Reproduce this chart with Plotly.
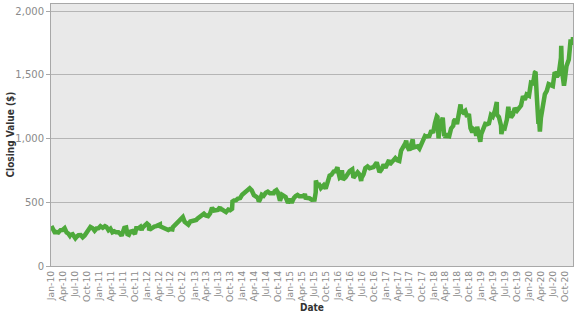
import plotly.graph_objects as go

dates = [
 "2010-01-04","2010-01-14","2010-01-29","2010-02-12","2010-02-26","2010-03-15","2010-03-31","2010-04-15","2010-04-30","2010-05-14","2010-05-25","2010-05-28","2010-06-15","2010-06-30","2010-07-06","2010-07-16","2010-07-30","2010-08-16","2010-08-31","2010-09-15","2010-09-30","2010-10-15","2010-10-29","2010-11-15","2010-11-30","2010-12-15","2010-12-31",
 "2011-01-14","2011-01-21","2011-01-31","2011-02-17","2011-02-28","2011-03-16","2011-03-31","2011-04-15","2011-04-29","2011-05-13","2011-05-31","2011-06-15","2011-06-24","2011-06-30","2011-07-15","2011-07-29","2011-08-08","2011-08-19","2011-08-31","2011-09-15","2011-09-30","2011-10-04","2011-10-14","2011-10-31","2011-11-15","2011-11-25","2011-11-30","2011-12-15","2011-12-30",
 "2012-01-04","2012-01-19","2012-01-20","2012-01-31","2012-02-15","2012-02-29","2012-03-15","2012-03-30","2012-04-12","2012-04-13","2012-04-30","2012-05-15","2012-05-31","2012-06-04","2012-06-15","2012-06-29","2012-07-16","2012-07-20","2012-07-31","2012-08-15","2012-08-31","2012-09-14","2012-09-28","2012-10-04","2012-10-18","2012-10-31","2012-11-15","2012-11-30","2012-12-14","2012-12-31",
 "2013-01-15","2013-01-23","2013-01-31","2013-02-15","2013-02-28","2013-03-14","2013-03-28","2013-04-15","2013-04-30","2013-05-15","2013-05-31","2013-06-14","2013-06-28","2013-07-15","2013-07-19","2013-07-31","2013-08-15","2013-08-30","2013-09-16","2013-09-30","2013-10-15","2013-10-18","2013-10-31","2013-11-15","2013-11-29","2013-12-16","2013-12-31",
 "2014-01-15","2014-01-31","2014-02-14","2014-02-27","2014-03-14","2014-03-31","2014-04-14","2014-04-30","2014-05-07","2014-05-15","2014-05-30","2014-06-13","2014-06-30","2014-07-15","2014-07-31","2014-08-15","2014-08-29","2014-09-05","2014-09-19","2014-09-30","2014-10-16","2014-10-31","2014-11-14","2014-11-28","2014-12-16","2014-12-31",
 "2015-01-13","2015-01-16","2015-01-30","2015-02-13","2015-02-27","2015-03-13","2015-03-31","2015-04-15","2015-04-24","2015-04-30","2015-05-15","2015-05-29","2015-06-15","2015-06-30","2015-07-07","2015-07-16","2015-07-17","2015-07-31","2015-08-06","2015-08-24","2015-08-31","2015-09-15","2015-09-30","2015-10-15","2015-10-23","2015-10-30","2015-11-13","2015-11-30","2015-12-15","2015-12-29","2015-12-31",
 "2016-01-15","2016-01-20","2016-02-01","2016-02-09","2016-02-29","2016-03-15","2016-03-31","2016-04-20","2016-04-22","2016-04-29","2016-05-13","2016-05-31","2016-06-15","2016-06-27","2016-06-30","2016-07-15","2016-07-29","2016-08-15","2016-08-31","2016-09-15","2016-09-30","2016-10-24","2016-10-31","2016-11-14","2016-11-30","2016-12-15","2016-12-30",
 "2017-01-13","2017-01-26","2017-01-31","2017-02-15","2017-02-28","2017-03-15","2017-03-31","2017-04-14","2017-04-28","2017-05-15","2017-05-31","2017-06-06","2017-06-12","2017-06-30","2017-07-14","2017-07-26","2017-07-31","2017-08-15","2017-08-31","2017-09-15","2017-09-29","2017-10-13","2017-10-27","2017-10-31","2017-11-15","2017-11-30","2017-12-15","2017-12-29",
 "2018-01-12","2018-01-26","2018-01-31","2018-02-08","2018-02-15","2018-02-27","2018-03-12","2018-03-23","2018-03-29","2018-04-02","2018-04-13","2018-04-24","2018-04-30","2018-05-15","2018-05-31","2018-06-06","2018-06-15","2018-06-29","2018-07-13","2018-07-26","2018-07-31","2018-08-15","2018-08-31","2018-09-14","2018-09-28","2018-10-10","2018-10-24","2018-10-26","2018-10-31","2018-11-15","2018-11-23","2018-11-30","2018-12-14","2018-12-24","2018-12-31",
 "2019-01-15","2019-01-31","2019-02-15","2019-02-28","2019-03-15","2019-03-29","2019-04-15","2019-04-29","2019-04-30","2019-05-15","2019-05-31","2019-06-03","2019-06-14","2019-06-28","2019-07-15","2019-07-26","2019-07-31","2019-08-15","2019-08-30","2019-09-13","2019-09-30","2019-10-15","2019-10-31","2019-11-15","2019-11-29","2019-12-13","2019-12-31",
 "2020-01-15","2020-01-31","2020-02-14","2020-02-19","2020-02-28","2020-03-09","2020-03-12","2020-03-13","2020-03-16","2020-03-23","2020-03-31","2020-04-15","2020-04-30","2020-05-15","2020-05-29","2020-06-15","2020-06-30","2020-07-14","2020-07-24","2020-07-31","2020-08-14","2020-08-31","2020-09-02","2020-09-08","2020-09-23","2020-09-30","2020-10-12","2020-10-30","2020-11-05","2020-11-13","2020-11-20","2020-11-30","2020-12-01",
]

closing = [
 313,295,265,266,263,282,283,297,263,254,238,243,249,222,218,230,242,243,225,240,263,300,307,297,277,295,297,
 312,306,300,313,307,281,293,265,272,265,265,251,237,253,299,302,250,245,270,274,257,251,296,296,308,282,300,312,322,
 334,320,293,290,302,309,313,320,326,312,302,302,290,285,282,290,287,305,316,334,342,354,377,384,347,340,324,349,351,353,
 362,371,377,396,400,411,397,391,412,457,435,438,440,461,448,443,428,423,443,438,449,506,515,517,530,534,560,
 574,590,600,610,595,556,546,534,508,519,559,551,575,584,571,573,571,586,595,577,512,559,544,541,495,526,
 496,508,534,549,558,547,546,548,565,536,533,532,521,520,522,579,672,625,650,612,618,635,608,662,702,710,717,742,744,776,758,
 694,698,752,678,697,728,745,759,718,693,711,735,718,668,692,720,768,782,767,772,777,813,784,736,758,797,771,
 807,832,796,818,823,847,829,824,905,932,964,984,942,908,955,994,930,932,939,921,959,989,1019,1016,1020,1021,1064,1046,
 1123,1175,1170,1001,1089,1118,1164,1021,1031,1006,1040,1019,1018,1080,1100,1140,1152,1115,1188,1268,1217,1205,1218,1172,1193,1082,1049,1072,1076,1063,1023,1094,1042,976,1035,
 1086,1116,1113,1119,1185,1173,1221,1287,1188,1170,1103,1036,1086,1081,1150,1250,1216,1167,1188,1239,1219,1243,1260,1334,1304,1347,1337,
 1439,1434,1520,1524,1339,1215,1115,1220,1084,1056,1163,1263,1348,1375,1428,1420,1413,1520,1511,1487,1507,1634,1728,1532,1415,1465,1569,1621,1763,1778,1743,1760,1798,
]

y_ticks = [0, 500, 1000, 1500, 2000]
x_title = "Date"
y_title = "Closing Value ($)"

font_family = "DejaVu Sans"
title_family = "DejaVu Sans Condensed, DejaVu Sans"

fig = go.Figure()
fig.add_trace(go.Scatter(
    x=dates, y=closing, mode="lines",
    line=dict(color="#4ea93b", width=4.5),
    hoverinfo="skip", showlegend=False,
))

fig.update_layout(
    width=577, height=315,
    margin=dict(l=51, r=4, t=4, b=49),
    paper_bgcolor="white",
    plot_bgcolor="#e9e9e9",
    font=dict(family=font_family, size=10, color="#8a8a8a"),
)

fig.update_xaxes(
    type="date",
    range=["2010-01-01", "2020-12-01"],
    dtick="M3", tick0="2010-01-01", tickformat="%b-%y",
    tickangle=-90,
    tickfont=dict(size=9.3, color="#8a8a8a"),
    showgrid=False, zeroline=False,
    showline=True, linecolor="#a8a8a8", linewidth=1, mirror=True,
    ticks="", automargin=False,
)

fig.update_yaxes(
    range=[0, 2057],
    tickvals=y_ticks, tickformat=",",
    tickfont=dict(size=10, color="#8a8a8a"),
    showgrid=True, gridcolor="#b5b5b5", gridwidth=1,
    zeroline=False,
    showline=True, linecolor="#a8a8a8", linewidth=1, mirror=True,
    ticks="outside", ticklen=4, tickcolor="#a8a8a8",
    automargin=False,
)

fig.add_annotation(
    text=y_title, xref="paper", yref="paper", x=0, y=0.5,
    xanchor="center", yanchor="middle", xshift=-41.5, textangle=-90,
    showarrow=False,
    font=dict(family=title_family, size=10, color="#333333", weight="bold"),
)
fig.add_annotation(
    text=x_title, xref="paper", yref="paper", x=0.5, y=0,
    xanchor="center", yanchor="middle", yshift=-41,
    showarrow=False,
    font=dict(family=title_family, size=10, color="#333333", weight="bold"),
)

fig.write_html("out.html")
